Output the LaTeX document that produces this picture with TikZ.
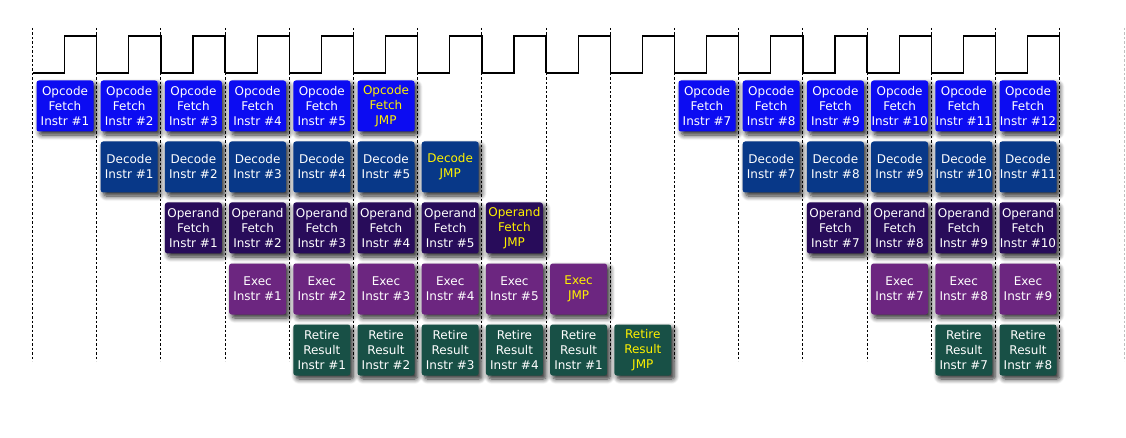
\documentclass[tikz,border=0pt]{standalone}
\usepackage{fontspec}
\setmainfont{DejaVu Sans}
\usetikzlibrary{shadows.blur}
\definecolor{cOF}{RGB}{12,12,242}
\definecolor{cDE}{RGB}{8,56,136}
\definecolor{cOP}{RGB}{40,12,90}
\definecolor{cEX}{RGB}{108,38,128}
\definecolor{cRE}{RGB}{24,80,70}
\newcommand\mybox[5]{%
  \pgfmathsetmacro\bx{65+64.2*#2}%
  \node[stagebox,#4] (#1) at (\bx,#3) {#5};}
\begin{document}
\begin{tikzpicture}[x=1pt,y=-1pt,
  stagebox/.style={rounded corners=2.5pt, minimum width=57pt, minimum height=51pt,
    inner sep=0pt, align=center, text=white,
    font=\fontsize{12pt}{15pt}\selectfont,
    blur shadow={shadow xshift=3pt, shadow yshift=-3.5pt, shadow blur radius=5pt, shadow blur steps=8, shadow opacity=85}},
  ofs/.style={fill=cOF}, des/.style={fill=cDE}, ops/.style={fill=cOP},
  exs/.style={fill=cEX}, res/.style={fill=cRE},
  jmp/.style={text=yellow},
  gridline/.style={densely dashed, dash pattern=on 2.5pt off 2pt, line width=0.9pt},
  clock/.style={line width=1.3pt, line join=miter}]
\useasboundingbox (0,0) rectangle (1126,438);
% grid lines
\foreach \k in {0,...,16} {
  \pgfmathsetmacro\gx{32.5+64.2*\k}
  \coordinate (gt\k) at (\gx,28);
  \coordinate (gb\k) at (\gx,361);
  \draw[gridline] (gt\k) -- (gb\k);
}
\coordinate (gt17) at (1124,28);
\coordinate (gb17) at (1124,361);
\draw[gridline, gray!50] (gt17) -- (gb17);
% clock
\foreach \k in {0,...,15} {
  \pgfmathsetmacro\xa{32.5+64.2*\k}
  \pgfmathsetmacro\xm{\xa+32.1}
  \pgfmathsetmacro\xb{\xa+64.2}
  \draw[clock] (\xa,73) -- (\xm,73) -- (\xm,36) -- (\xb,36) -- (\xb,73);
}
% row 1: opcode fetch
\foreach \c [count=\i] in {0,...,4} {\mybox{of\i}{\c}{106}{ofs}{Opcode\\Fetch\\Instr \#\i}}
\mybox{ofj}{5}{106}{ofs,jmp}{Opcode\\Fetch\\JMP}
\foreach \c [evaluate=\c as \n using int(\c-3)] in {10,...,15} {\mybox{of\n}{\c}{106}{ofs}{Opcode\\Fetch\\Instr \#\n}}
% row 2: decode
\foreach \c [count=\i] in {1,...,5} {\mybox{de\i}{\c}{167}{des}{Decode\\Instr \#\i}}
\mybox{dej}{6}{167}{des,jmp}{Decode\\JMP}
\foreach \c [evaluate=\c as \n using int(\c-4)] in {11,...,15} {\mybox{de\n}{\c}{167}{des}{Decode\\Instr \#\n}}
% row 3: operand fetch
\foreach \c [count=\i] in {2,...,6} {\mybox{op\i}{\c}{228}{ops}{Operand\\Fetch\\Instr \#\i}}
\mybox{opj}{7}{228}{ops,jmp}{Operand\\Fetch\\JMP}
\foreach \c [evaluate=\c as \n using int(\c-5)] in {12,...,15} {\mybox{op\n}{\c}{228}{ops}{Operand\\Fetch\\Instr \#\n}}
% row 4: exec
\foreach \c [count=\i] in {3,...,7} {\mybox{ex\i}{\c}{289}{exs}{Exec\\Instr \#\i}}
\mybox{exj}{8}{289}{exs,jmp}{Exec\\JMP}
\foreach \c [evaluate=\c as \n using int(\c-6)] in {13,...,15} {\mybox{ex\n}{\c}{289}{exs}{Exec\\Instr \#\n}}
% row 5: retire
\foreach \c [count=\i] in {4,...,7} {\mybox{re\i}{\c}{350}{res}{Retire\\Result\\Instr \#\i}}
\mybox{rex}{8}{350}{res}{Retire\\Result\\Instr \#1}
\mybox{rej}{9}{350}{res,jmp}{Retire\\Result\\JMP}
\foreach \c [evaluate=\c as \n using int(\c-7)] in {14,15} {\mybox{re\n}{\c}{350}{res}{Retire\\Result\\Instr \#\n}}
\end{tikzpicture}
\end{document}
